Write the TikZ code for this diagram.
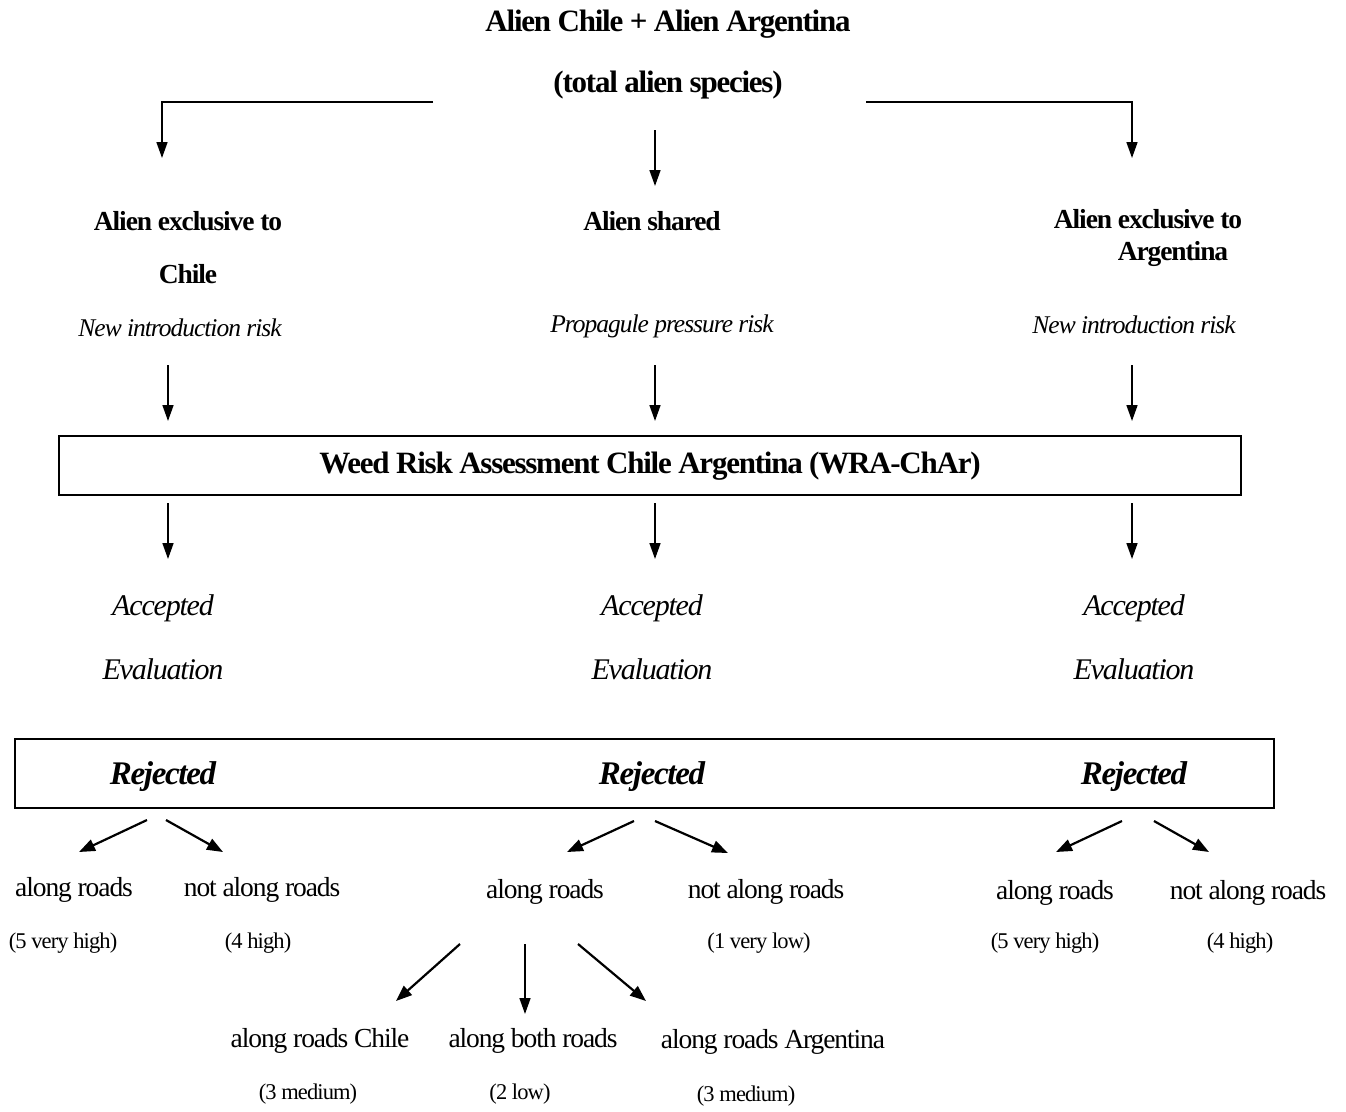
\documentclass[tikz,border=0pt]{standalone}
\usepackage{fontspec}
\setmainfont{Liberation Serif}[LetterSpace=-4]
\usetikzlibrary{arrows.meta}
\tikzset{
  txt/.style={inner sep=0pt, anchor=center, font=\fontsize{27.5}{30}\selectfont},
  btxt/.style={txt, font=\fontsize{27.5}{30}\selectfont\bfseries},
  ttxt/.style={txt, font=\fontsize{31}{34}\selectfont\bfseries},
  itxt/.style={txt, font=\fontsize{25.5}{28}\selectfont\itshape},
  big/.style={txt, font=\fontsize{30}{34}\selectfont\itshape},
  rtxt/.style={txt, font=\fontsize{33}{36}\selectfont\bfseries\itshape},
  small/.style={txt, font=\fontsize{22.5}{26}\selectfont},
  arr/.style={line width=1.6pt, -{Triangle[length=16pt,width=11pt]}},
  darr/.style={line width=2.2pt, -{Triangle[length=16pt,width=12pt]}},
  frame/.style={draw, line width=1.2pt},
}
\begin{document}
\begin{tikzpicture}[x=1pt,y=-1pt]
\useasboundingbox (0,0) rectangle (1346,1111);
% title
\node[ttxt] (t1) at (668,24) {Alien Chile + Alien Argentina};
\node[ttxt] (t2) at (668,85) {(total alien species)};
% top split
\coordinate (tl) at (433,102);
\coordinate (tlc) at (162,102);
\coordinate (tle) at (162,158);
\coordinate (tr) at (866,102);
\coordinate (trc) at (1132,102);
\coordinate (tre) at (1132,158);
\coordinate (tms) at (655,130);
\coordinate (tme) at (655,186);
\draw[arr] (tl) -- (tlc) -- (tle);
\draw[arr] (tr) -- (trc) -- (tre);
\draw[arr] (tms) -- (tme);
% categories
\node[btxt] (c1a) at (188,221) {Alien exclusive to};
\node[btxt] (c1b) at (188,274) {Chile};
\node[itxt] (c1c) at (180,328) {New introduction risk};
\node[btxt] (c2a) at (652,221) {Alien shared};
\node[itxt] (c2c) at (662,326) {Propagule pressure risk};
\node[btxt] (c3a) at (1148,219) {Alien exclusive to};
\node[btxt] (c3b) at (1173,254) {Argentina};
\node[itxt] (c3c) at (1134,325) {New introduction risk};
% arrows into WRA
\foreach \i/\x in {1/168,2/655,3/1132}{
  \coordinate (a\i s) at (\x,365);
  \coordinate (a\i e) at (\x,421);
  \draw[arr] (a\i s) -- (a\i e);
}
% WRA box
\node[frame, minimum width=1182pt, minimum height=59pt, inner sep=0pt] (wra) at (650,465.5) {};
\node[ttxt] (wrat) at (650,466) {Weed Risk Assessment Chile Argentina (WRA-ChAr)};
% arrows out of WRA
\foreach \i/\x in {1/168,2/655,3/1132}{
  \coordinate (b\i s) at (\x,503);
  \coordinate (b\i e) at (\x,559);
  \draw[arr] (b\i s) -- (b\i e);
}
% accepted / evaluation
\node[big] (acc1) at (163,608) {Accepted};
\node[big] (ev1) at (163,669) {Evaluation};
\node[big] (acc2) at (652,608) {Accepted};
\node[big] (ev2) at (652,669) {Evaluation};
\node[big] (acc3) at (1134,608) {Accepted};
\node[big] (ev3) at (1134,669) {Evaluation};
% rejected box
\node[frame, minimum width=1259pt, minimum height=69pt, inner sep=0pt] (rej) at (644.5,773.5) {};
\node[rtxt] (r1) at (163,777) {Rejected};
\node[rtxt] (r2) at (652,777) {Rejected};
\node[rtxt] (r3) at (1134,777) {Rejected};
% split arrows
\coordinate (l1s) at (147,820); \coordinate (l1e) at (79,852);
\coordinate (l2s) at (166,820); \coordinate (l2e) at (223,852);
\coordinate (m1s) at (634,821); \coordinate (m1e) at (567,852);
\coordinate (m2s) at (655,821); \coordinate (m2e) at (728,853);
\coordinate (r1s) at (1122,821); \coordinate (r1e) at (1056,852);
\coordinate (r2s) at (1154,821); \coordinate (r2e) at (1209,852);
\foreach \s/\e in {l1s/l1e,l2s/l2e,m1s/m1e,m2s/m2e,r1s/r1e,r2s/r2e}{
  \draw[darr] (\s) -- (\e);
}
% left leaves
\node[txt] (la) at (74,890) {along roads};
\node[txt] (lb) at (262,890) {not along roads};
\node[small] (lav) at (63,943) {(5 very high)};
\node[small] (lbv) at (258,943) {(4 high)};
% middle leaves
\node[txt] (ma) at (545,892) {along roads};
\node[txt] (mb) at (766,892) {not along roads};
\node[small] (mbv) at (759,943) {(1 very low)};
% right leaves
\node[txt] (ra) at (1055,893) {along roads};
\node[txt] (rb) at (1248,893) {not along roads};
\node[small] (rav) at (1045,943) {(5 very high)};
\node[small] (rbv) at (1240,943) {(4 high)};
% sub arrows
\coordinate (s1s) at (460,944); \coordinate (s1e) at (396,1001);
\coordinate (s2s) at (525,944); \coordinate (s2e) at (525,1014);
\coordinate (s3s) at (578,944); \coordinate (s3e) at (646,1001);
\draw[darr] (s1s) -- (s1e);
\draw[arr] (s2s) -- (s2e);
\draw[darr] (s3s) -- (s3e);
\node[txt] (sa) at (320,1041) {along roads Chile};
\node[txt] (sb) at (533,1041) {along both roads};
\node[txt] (sc) at (773,1042) {along roads Argentina};
\node[small] (sav) at (308,1094) {(3 medium)};
\node[small] (sbv) at (520,1094) {(2 low)};
\node[small] (scv) at (746,1096) {(3 medium)};
\end{tikzpicture}
\end{document}
